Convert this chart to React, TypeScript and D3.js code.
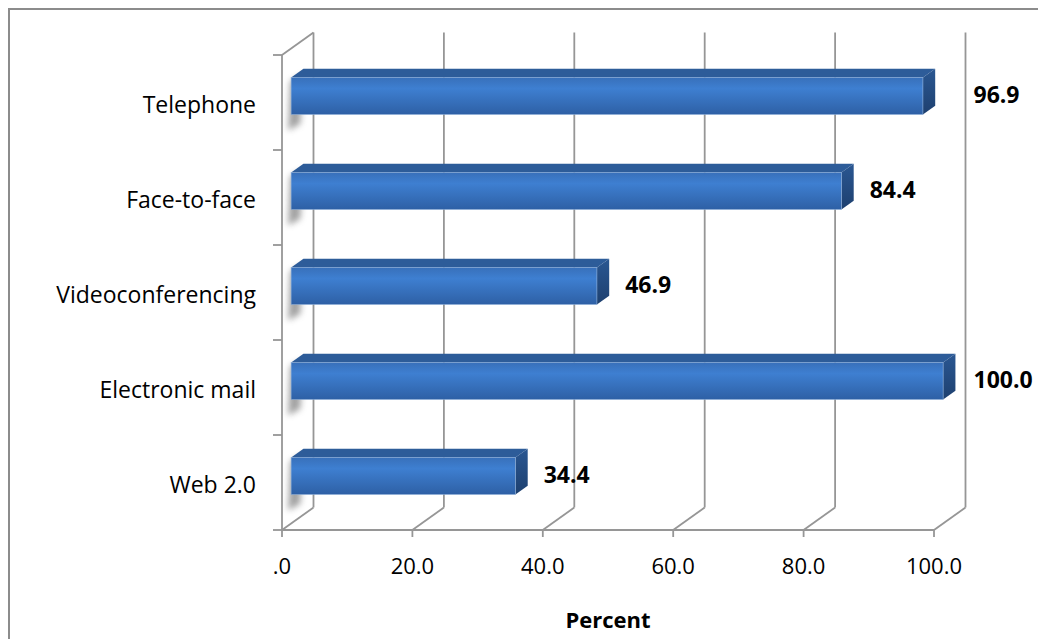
import React from "react";
import * as d3 from "d3";

const width = 1038;
const height = 639;

const categories = ["Telephone", "Face-to-face", "Videoconferencing", "Electronic mail", "Web 2.0"];
const values = [96.9, 84.4, 46.9, 100.0, 34.4];
const ticks = [0, 20, 40, 60, 80, 100];
const tickLabels = [".0", "20.0", "40.0", "60.0", "80.0", "100.0"];

const font = "'Open Sans', sans-serif";
const grid = "#969696";

// depth of the 3D box (back wall offset)
const DX = 31.5;
const DY = -22.5;
const f0 = 0.29; // bar front plane
const f1 = 0.68; // bar back plane

const x = d3.scaleLinear().domain([0, 100]).range([282, 934]);
const y = d3.scaleBand().domain(categories).range([55, 530]).padding(0);
const barH = y.bandwidth() * 0.39;

export default function App() {
  const floorY = y.range()[1];
  const topY = y.range()[0];
  const ddx = (f1 - f0) * DX;
  const ddy = (f1 - f0) * DY;
  const wallX = x(100) + DX;

  return (
    <svg width={width} height={height} style={{ position: "absolute", left: 0, top: 0, background: "#fff" }}>
      <defs>
        <linearGradient id="front" x1="0" y1="0" x2="0" y2="1">
          <stop offset="0%" stopColor="#3870ba" />
          <stop offset="30%" stopColor="#3e7fd1" />
          <stop offset="100%" stopColor="#2e60a5" />
        </linearGradient>
        <linearGradient id="side" x1="0" y1="0" x2="0" y2="1">
          <stop offset="0%" stopColor="#2a5792" />
          <stop offset="100%" stopColor="#1e406f" />
        </linearGradient>
        <filter id="blur" x="-50%" y="-50%" width="200%" height="200%">
          <feGaussianBlur stdDeviation="3" />
        </filter>
      </defs>

      {/* outer border */}
      <rect x={9} y={9} width={width + 20} height={height + 20} fill="none" stroke="#8c8c8c" strokeWidth={2} />

      {/* left wall */}
      <g stroke={grid} strokeWidth={1.8} fill="none">
        <line x1={x(0)} y1={topY} x2={x(0)} y2={floorY} />
        <line x1={x(0)} y1={topY} x2={x(0) + DX} y2={topY + DY} />
        {y.domain().map((c) => (
          <line key={c} x1={x(0) - 9} x2={x(0)} y1={y(c)!} y2={y(c)!} />
        ))}
        <line x1={x(0) - 9} x2={x(0)} y1={floorY} y2={floorY} />
      </g>

      {/* back gridlines + floor */}
      <g stroke={grid} strokeWidth={1.8} fill="none">
        {ticks.map((t) => (
          <g key={t}>
            <line x1={x(t) + DX} x2={x(t) + DX} y1={topY + DY} y2={floorY + DY} />
            <line x1={x(t)} y1={floorY} x2={x(t) + DX} y2={floorY + DY} />
            <line x1={x(t)} x2={x(t)} y1={floorY} y2={floorY + 7} />
          </g>
        ))}
        <line x1={x(0)} x2={x(100)} y1={floorY} y2={floorY} />
      </g>

      {/* wall shadows */}
      <g filter="url(#blur)" fill="#7a7a7a" opacity={0.7}>
        {categories.map((c) => {
          const yc = y(c)! + y.bandwidth() / 2;
          const t = yc - barH / 2 + f0 * DY;
          const b = yc + barH / 2 + f0 * DY;
          const x0 = x(0) + f0 * DX;
          const pts = [
            [x0 - 1, t + 4],
            [x0 + ddx - 1, t + ddy + 6],
            [x0 + ddx - 3, b + ddy + 18],
            [x0 - 3, b + 16],
          ];
          return <polygon key={c} points={pts.map((p) => p.join(",")).join(" ")} />;
        })}
      </g>

      {/* bars */}
      {categories.map((c, i) => {
        const yc = y(c)! + y.bandwidth() / 2;
        const t = yc - barH / 2 + f0 * DY;
        const b = yc + barH / 2 + f0 * DY;
        const x0 = x(0) + f0 * DX;
        const x1 = x(values[i]) + f0 * DX;
        const top = [
          [x0, t],
          [x1, t],
          [x1 + ddx, t + ddy],
          [x0 + ddx, t + ddy],
        ];
        const side = [
          [x1, t],
          [x1 + ddx, t + ddy],
          [x1 + ddx, b + ddy],
          [x1, b],
        ];
        // label sits right of the bar, but not over the right wall line
        let lx = x1 + ddx + 16;
        if (lx < wallX + 8 && lx + 45 > wallX - 4) lx = wallX + 8;
        return (
          <g key={c}>
            <polygon points={top.map((p) => p.join(",")).join(" ")} fill="#2d5c99" />
            <polygon points={side.map((p) => p.join(",")).join(" ")} fill="url(#side)" />
            <rect x={x0} y={t} width={x1 - x0} height={b - t} fill="url(#front)" stroke="#8fb0dc" strokeWidth={0.8} strokeOpacity={0.7} />
            <text
              x={lx}
              y={(t + b) / 2 - 2}
              dominantBaseline="central"
              fontFamily={font}
              fontWeight="bold"
              fontSize={23}
              fill="#000"
            >
              {values[i].toFixed(1)}
            </text>
          </g>
        );
      })}

      {/* category labels */}
      {categories.map((c) => (
        <text
          key={c}
          x={256}
          y={y(c)! + y.bandwidth() / 2 + 1}
          textAnchor="end"
          dominantBaseline="central"
          fontFamily={font}
          fontSize={23}
          fill="#000"
        >
          {c}
        </text>
      ))}

      {/* x tick labels */}
      {ticks.map((t, i) => (
        <text key={t} x={x(t)} y={574} textAnchor="middle" fontFamily={font} fontSize={22} fill="#000">
          {tickLabels[i]}
        </text>
      ))}

      <text x={(x(0) + x(100)) / 2} y={628} textAnchor="middle" fontFamily={font} fontWeight="bold" fontSize={22} fill="#000">
        Percent
      </text>
    </svg>
  );
}
